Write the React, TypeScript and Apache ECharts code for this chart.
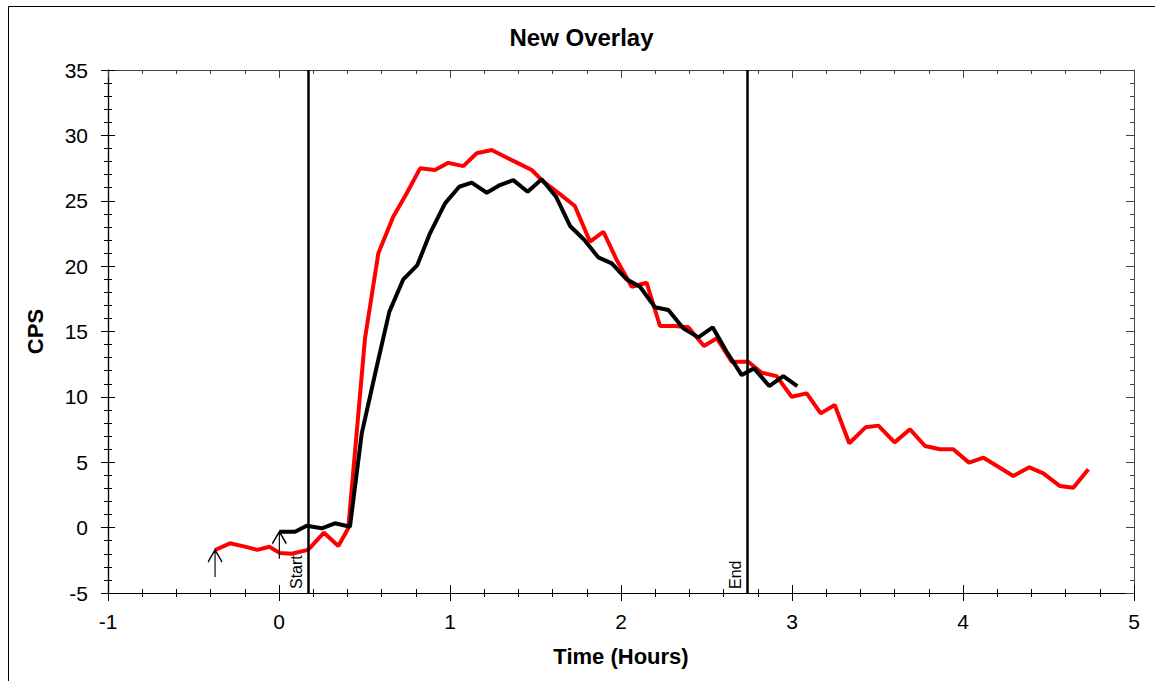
import React, { useEffect, useRef } from "react";
import * as echarts from "echarts";

const FONT = "'Liberation Sans', Arial, sans-serif";

// Red series [time (hours), CPS]
const redSeries: [number, number][] = [
  [-0.374, -1.71], [-0.287, -1.2], [-0.2, -1.45], [-0.127, -1.7], [-0.057, -1.46],
  [0.006, -1.95], [0.074, -2.0], [0.17, -1.7], [0.263, -0.39], [0.347, -1.4],
  [0.405, -0.05], [0.503, 14.48], [0.581, 20.98], [0.668, 23.78], [0.747, 25.57],
  [0.825, 27.48], [0.912, 27.35], [0.99, 27.9], [1.078, 27.65], [1.156, 28.63],
  [1.244, 28.88], [1.322, 28.37], [1.4, 27.86], [1.478, 27.35], [1.546, 26.46],
  [1.643, 25.51], [1.73, 24.6], [1.819, 21.87], [1.897, 22.63], [1.975, 20.47],
  [2.063, 18.42], [2.15, 18.73], [2.228, 15.42], [2.316, 15.42], [2.394, 15.32],
  [2.485, 13.89], [2.56, 14.48], [2.647, 12.69], [2.744, 12.69], [2.823, 11.85],
  [2.91, 11.59], [2.998, 10.01], [3.086, 10.27], [3.168, 8.74], [3.25, 9.38],
  [3.335, 6.45], [3.43, 7.67], [3.505, 7.8], [3.6, 6.52], [3.69, 7.52],
  [3.778, 6.24], [3.865, 5.99], [3.943, 5.99], [4.035, 4.97], [4.12, 5.35],
  [4.206, 4.66], [4.294, 3.95], [4.388, 4.61], [4.47, 4.15], [4.567, 3.18],
  [4.645, 3.05], [4.733, 4.46],
];

// Black series [time (hours), CPS]
const blackSeries: [number, number][] = [
  [0.002, -0.31], [0.094, -0.31], [0.162, 0.15], [0.25, -0.05], [0.327, 0.33],
  [0.415, 0.07], [0.484, 7.21], [0.567, 12.06], [0.645, 16.5], [0.727, 18.99],
  [0.809, 20.08], [0.883, 22.51], [0.971, 24.8], [1.054, 26.07], [1.127, 26.38],
  [1.215, 25.61], [1.292, 26.2], [1.37, 26.58], [1.454, 25.69], [1.536, 26.64],
  [1.62, 25.31], [1.702, 23.07], [1.786, 22.0], [1.867, 20.67], [1.946, 20.21],
  [2.033, 18.99], [2.111, 18.42], [2.199, 16.85], [2.277, 16.64], [2.364, 15.24],
  [2.452, 14.55], [2.536, 15.32], [2.618, 13.45], [2.706, 11.67], [2.778, 12.18],
  [2.867, 10.83], [2.949, 11.59], [3.031, 10.83],
];

// Vertical markers
const markers: { name: string; x: number }[] = [
  { name: "Start", x: 0.17 },
  { name: "End", x: 2.74 },
];

const xRange = { min: -1, max: 5, interval: 1 };
const yRange = { min: -5, max: 35, interval: 5 };

const ARROW = "path://M7,0 L7,27 M0,12 L7,0 L14,12";

function arrowMark(pt: [number, number]) {
  return {
    silent: true,
    symbol: ARROW,
    symbolSize: [14, 27],
    symbolOffset: [0, "50%"],
    symbolKeepAspect: false,
    itemStyle: { color: "transparent", borderColor: "#000", borderWidth: 1.6 },
    label: { show: false },
    data: [{ coord: pt }],
  };
}

export default function App() {
  const ref = useRef<HTMLDivElement>(null);

  useEffect(() => {
    if (!ref.current) return;
    const chart = echarts.init(ref.current, undefined, { renderer: "svg" });

    const baseX = (extra: any) => ({
      type: "value",
      min: xRange.min,
      max: xRange.max,
      interval: xRange.interval,
      splitLine: { show: false },
      axisLine: { show: true, onZero: false, lineStyle: { color: "#000", width: 1.2 } },
      minorTick: { show: true, splitNumber: 5, length: 4, lineStyle: { color: "#000", width: 1 } },
      axisTick: { show: true, length: 8, lineStyle: { color: "#000", width: 1 } },
      axisLabel: { show: false },
      ...extra,
    });
    const baseY = (extra: any) => ({
      type: "value",
      min: yRange.min,
      max: yRange.max,
      interval: yRange.interval,
      splitLine: { show: false },
      axisLine: { show: true, onZero: false, lineStyle: { color: "#000", width: 1.2 } },
      minorTick: { show: true, splitNumber: 5, length: 4, lineStyle: { color: "#000", width: 1 } },
      axisTick: { show: true, length: 7, lineStyle: { color: "#000", width: 1 } },
      axisLabel: { show: false },
      ...extra,
    });

    chart.setOption({
      animation: false,
      backgroundColor: "#fff",
      textStyle: { fontFamily: FONT },
      title: {
        text: "New Overlay",
        left: "center",
        top: 14,
        textStyle: { fontFamily: FONT, fontSize: 24, fontWeight: "bold", color: "#000" },
      },
      graphic: [
        {
          type: "rect",
          shape: { x: 0.5, y: 0.5, width: 3000, height: 3000 },
          style: { fill: "none", stroke: "#000", lineWidth: 1 },
          silent: true,
        },
      ],
      grid: { left: 100, right: 21, top: 64, bottom: 88, containLabel: false },
      xAxis: [
        baseX({
          position: "bottom",
          axisTick: { show: true, inside: false, length: 8, lineStyle: { color: "#000", width: 1 } },
          axisLabel: { show: true, fontSize: 21, margin: 18, color: "#000", fontFamily: FONT },
          name: "Time (Hours)",
          nameLocation: "middle",
          nameGap: 52,
          nameTextStyle: { fontFamily: FONT, fontSize: 22, fontWeight: "bold", color: "#000" },
        }),
        baseX({
          position: "bottom",
          axisTick: { show: true, inside: true, length: 8, lineStyle: { color: "#000", width: 1 } },
        }),
        baseX({
          position: "top",
          axisLine: { show: true, onZero: false, lineStyle: { color: "#444", width: 1 } },
          axisTick: { show: true, inside: true, length: 8, lineStyle: { color: "#444", width: 1 } },
          minorTick: { show: true, splitNumber: 5, length: 4, lineStyle: { color: "#444", width: 1 } },
        }),
      ],
      yAxis: [
        baseY({
          position: "left",
          axisTick: { show: true, inside: false, length: 7, lineStyle: { color: "#000", width: 1 } },
          axisLabel: { show: true, fontSize: 21, margin: 20, color: "#000", fontFamily: FONT },
          name: "CPS",
          nameLocation: "middle",
          nameGap: 62,
          nameTextStyle: { fontFamily: FONT, fontSize: 22, fontWeight: "bold", color: "#000" },
        }),
        baseY({
          position: "left",
          axisTick: { show: true, inside: true, length: 7, lineStyle: { color: "#000", width: 1 } },
        }),
        baseY({
          position: "right",
          axisLine: { show: true, onZero: false, lineStyle: { color: "#444", width: 1 } },
          axisTick: { show: true, inside: true, length: 8, lineStyle: { color: "#444", width: 1 } },
          minorTick: { show: true, splitNumber: 5, length: 4, lineStyle: { color: "#444", width: 1 } },
        }),
      ],
      series: [
        {
          name: "Red",
          type: "line",
          xAxisIndex: 0,
          yAxisIndex: 0,
          data: redSeries,
          symbol: "none",
          showSymbol: false,
          lineStyle: { color: "#ff0000", width: 4 },
          itemStyle: { color: "#ff0000" },
          markPoint: arrowMark(redSeries[0]),
          z: 2,
        },
        {
          name: "Black",
          type: "line",
          xAxisIndex: 0,
          yAxisIndex: 0,
          data: blackSeries,
          symbol: "none",
          showSymbol: false,
          lineStyle: { color: "#000", width: 4 },
          itemStyle: { color: "#000" },
          markPoint: arrowMark(blackSeries[0]),
          markLine: {
            silent: true,
            symbol: "none",
            lineStyle: { color: "#000", width: 2.5, type: "solid" },
            label: {
              show: true,
              position: "insideStartTop",
              formatter: "{b}",
              fontSize: 16,
              color: "#000",
              fontFamily: FONT,
              distance: 4,
            },
            data: markers.map((m) => ({ name: m.name, xAxis: m.x })),
          },
          z: 3,
        },
      ],
    });

    return () => chart.dispose();
  }, []);

  return (
    <div
      ref={ref}
      style={{ position: "absolute", left: 8, top: 6, width: 1147, height: 675 }}
    />
  );
}
